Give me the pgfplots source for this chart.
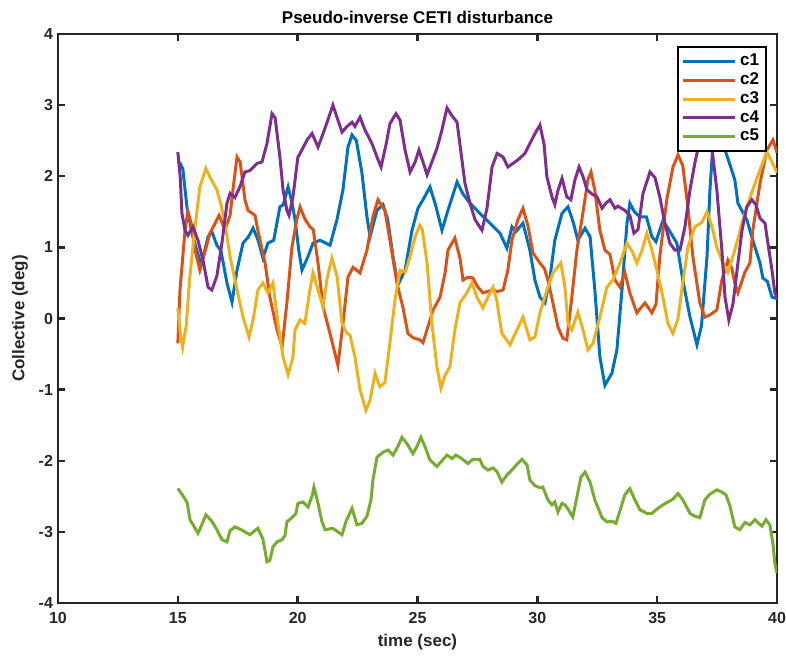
\documentclass[border=0pt]{standalone}
\usepackage{fontspec}
\setmainfont{Liberation Sans}
\usepackage{pgfplots}
\pgfplotsset{compat=1.18}
\definecolor{mc1}{rgb}{0,0.447,0.741}
\definecolor{mc2}{rgb}{0.85,0.325,0.098}
\definecolor{mc3}{rgb}{0.929,0.694,0.125}
\definecolor{mc4}{rgb}{0.494,0.184,0.556}
\definecolor{mc5}{rgb}{0.466,0.674,0.188}
\definecolor{axc}{rgb}{0.15,0.15,0.15}
\begin{document}
\begin{tikzpicture}
\begin{axis}[
  at={(0,0)}, anchor=south west,
  scale only axis, width=359.5pt, height=284.5pt,
  xmin=10, xmax=40, ymin=-4, ymax=4,
  xtick={10,15,20,25,30,35,40}, ytick={-4,-3,-2,-1,0,1,2,3,4},
  tick align=inside, major tick length=3.5pt,
  axis line style={line width=1.2pt, color=axc},
  every tick/.style={line width=1.2pt, color=axc},
  /pgf/number format/assume math mode=true,
  tick label style={font=\bfseries\fontsize{8}{9}\selectfont, color=axc},
  xticklabel style={yshift=-1pt},
  yticklabel style={xshift=1pt},
  title={Pseudo-inverse CETI disturbance},
  every axis title shift=0pt,
  title style={at={(axis description cs:0.5,1)}, anchor=base, yshift=5pt, font=\bfseries\fontsize{8.5}{10}\selectfont},
  xlabel={time (sec)},
  ylabel={Collective (deg)},
  every axis x label/.style={at={(axis description cs:0.5,0)}, anchor=base, yshift=-21.5pt, font=\bfseries\fontsize{8.5}{10}\selectfont, color=axc},
  every axis y label/.style={at={(axis description cs:0,0.5)}, anchor=center, rotate=90, yshift=19pt, font=\bfseries\fontsize{8.5}{10}\selectfont, color=axc},
  legend style={at={(1,1)}, anchor=north east, xshift=-5pt, yshift=-6pt, draw=black, line width=1pt, font=\bfseries\fontsize{8.5}{9}\selectfont, row sep=-2pt, inner sep=1.5pt},
  legend cell align=left,
  legend image code/.code={\draw[#1] (0pt,0pt) -- (26pt,0pt);},
  every axis plot/.append style={line width=1.5pt},
]
\addplot[mc1] coordinates {(15.0,2.2) (15.1,2.18) (15.21,2.1) (15.38,1.57) (15.59,1.2) (15.8,0.95) (15.95,0.78) (16.05,0.85) (16.26,1.15) (16.42,1.22) (16.63,1.03) (16.8,0.95) (17.05,0.5) (17.26,0.23) (17.47,0.68) (17.72,1.06) (17.95,1.15) (18.14,1.27) (18.35,1.1) (18.55,0.85) (18.76,1.06) (19.0,1.1) (19.26,1.57) (19.4,1.6) (19.6,1.85) (19.75,1.65) (19.89,1.39) (20.05,0.95) (20.18,0.68) (20.43,0.87) (20.64,1.06) (20.93,1.1) (21.35,1.03) (21.64,1.39) (21.89,1.81) (22.1,2.41) (22.27,2.58) (22.45,2.5) (22.68,2.05) (22.89,1.43) (23.02,1.15) (23.31,1.52) (23.56,1.6) (23.75,1.4) (23.98,0.87) (24.18,0.47) (24.48,0.68) (24.77,1.24) (25.02,1.55) (25.23,1.67) (25.52,1.85) (25.75,1.6) (26.02,1.24) (26.27,1.52) (26.65,1.92) (26.9,1.75) (27.19,1.62) (27.6,1.48) (28.02,1.34) (28.44,1.2) (28.73,0.99) (28.94,1.29) (29.1,1.22) (29.4,1.34) (29.69,0.96) (29.9,0.54) (30.11,0.3) (30.32,0.22) (30.53,0.58) (30.73,1.1) (31.03,1.48) (31.28,1.57) (31.5,1.35) (31.69,1.1) (31.99,1.27) (32.2,1.15) (32.4,0.4) (32.61,-0.54) (32.82,-0.94) (33.11,-0.77) (33.32,-0.44) (33.53,0.4) (33.74,1.34) (33.86,1.62) (34.05,1.5) (34.28,1.43) (34.55,1.43) (34.78,1.15) (34.95,1.08) (35.24,1.38) (35.5,1.24) (35.82,1.06) (36.07,0.54) (36.37,0.02) (36.66,-0.37) (36.85,-0.1) (37.08,0.87) (37.2,1.8) (37.33,2.45) (37.5,2.65) (37.75,2.45) (38.0,2.2) (38.24,1.95) (38.37,1.62) (38.74,1.39) (38.99,1.1) (39.29,0.78) (39.41,0.57) (39.6,0.52) (39.79,0.3) (40.0,0.28)};
\addlegendentry{c1}
\addplot[mc2] coordinates {(15.0,-0.35) (15.09,0.4) (15.3,1.24) (15.42,1.5) (15.55,1.35) (15.72,0.96) (15.92,0.68) (16.1,0.9) (16.34,1.2) (16.5,1.3) (16.72,1.45) (16.97,1.25) (17.18,1.45) (17.3,1.81) (17.47,2.27) (17.6,2.2) (17.8,1.67) (17.93,1.52) (18.22,1.45) (18.34,1.24) (18.64,0.78) (18.84,0.3) (19.14,-0.16) (19.35,-0.4) (19.55,0.22) (19.76,1.0) (19.97,1.4) (20.1,1.57) (20.3,1.4) (20.51,1.29) (20.65,1.25) (20.85,0.78) (21.06,0.16) (21.35,-0.21) (21.68,-0.66) (21.89,-0.07) (22.1,0.58) (22.31,0.72) (22.6,0.64) (22.89,0.96) (23.14,1.43) (23.35,1.67) (23.64,1.52) (23.85,1.1) (24.14,0.5) (24.39,0.16) (24.6,-0.21) (24.81,-0.27) (25.1,-0.3) (25.23,-0.34) (25.45,-0.1) (25.65,0.12) (25.94,0.3) (26.15,0.64) (26.27,0.96) (26.56,1.13) (26.77,0.85) (26.9,0.54) (27.1,0.58) (27.31,0.57) (27.5,0.45) (27.73,0.36) (28.11,0.4) (28.35,0.38) (28.57,0.4) (28.77,0.68) (28.94,1.1) (29.19,1.39) (29.4,1.55) (29.61,1.3) (29.82,0.92) (30.11,0.78) (30.3,0.7) (30.44,0.54) (30.65,0.22) (30.86,-0.12) (31.07,-0.28) (31.23,-0.3) (31.44,0.3) (31.65,0.96) (31.9,1.48) (32.11,1.95) (32.24,2.06) (32.4,1.8) (32.61,1.24) (32.82,0.96) (33.03,0.9) (33.24,0.54) (33.45,0.44) (33.65,0.65) (33.86,0.36) (34.15,0.08) (34.49,0.22) (34.78,0.08) (34.95,0.2) (35.11,0.87) (35.4,1.67) (35.66,2.13) (35.87,2.3) (36.07,2.15) (36.28,1.57) (36.49,0.87) (36.78,0.22) (36.99,0.02) (37.2,0.05) (37.49,0.12) (37.7,0.54) (37.95,0.82) (38.12,0.7) (38.24,0.5) (38.37,0.36) (38.66,0.65) (38.87,0.78) (38.99,1.24) (39.29,1.9) (39.58,2.37) (39.83,2.51) (40.0,2.33)};
\addlegendentry{c2}
\addplot[mc3] coordinates {(15.0,0.15) (15.1,-0.2) (15.2,-0.4) (15.35,-0.1) (15.5,0.58) (15.7,1.24) (15.92,1.85) (16.17,2.11) (16.4,1.95) (16.63,1.81) (16.8,1.6) (16.97,1.34) (17.18,0.87) (17.47,0.4) (17.72,0.02) (17.97,-0.26) (18.15,0.0) (18.34,0.4) (18.55,0.5) (18.76,0.36) (18.97,0.5) (19.18,-0.07) (19.39,-0.54) (19.6,-0.79) (19.8,-0.55) (19.89,-0.16) (20.1,-0.02) (20.3,-0.07) (20.51,0.4) (20.64,0.64) (20.85,0.4) (21.06,0.16) (21.22,0.55) (21.43,0.85) (21.64,0.6) (21.85,-0.07) (22.06,-0.21) (22.18,-0.23) (22.39,-0.54) (22.6,-1.0) (22.85,-1.29) (23.02,-1.15) (23.23,-0.77) (23.43,-0.96) (23.64,-0.9) (23.85,-0.34) (24.06,0.26) (24.27,0.68) (24.48,0.65) (24.69,0.87) (24.9,1.15) (25.1,1.31) (25.2,1.25) (25.4,0.78) (25.6,-0.07) (25.81,-0.68) (25.98,-0.98) (26.15,-0.8) (26.35,-0.68) (26.56,-0.16) (26.77,0.22) (27.06,0.36) (27.27,0.5) (27.48,0.3) (27.73,0.15) (27.94,0.3) (28.15,0.44) (28.31,0.25) (28.52,-0.21) (28.86,-0.37) (29.15,-0.16) (29.4,0.02) (29.69,-0.3) (29.9,-0.26) (30.11,0.08) (30.4,0.4) (30.65,0.64) (30.98,0.78) (31.15,0.45) (31.28,-0.07) (31.44,-0.16) (31.69,0.09) (31.9,-0.15) (32.11,-0.44) (32.32,-0.35) (32.61,0.02) (32.9,0.44) (33.15,0.54) (33.45,0.78) (33.74,1.06) (33.95,0.95) (34.15,0.78) (34.36,0.95) (34.57,1.2) (34.78,0.96) (34.99,0.68) (35.24,0.3) (35.45,-0.07) (35.66,-0.21) (35.87,0.0) (36.07,0.5) (36.28,1.0) (36.57,1.29) (36.86,1.35) (37.08,1.5) (37.28,1.3) (37.49,1.0) (37.74,0.78) (37.95,0.65) (38.24,0.96) (38.54,1.34) (38.74,1.57) (38.99,1.81) (39.29,2.09) (39.58,2.34) (39.79,2.2) (40.0,2.05)};
\addlegendentry{c3}
\addplot[mc4] coordinates {(15.0,2.34) (15.1,1.99) (15.17,1.48) (15.3,1.24) (15.42,1.17) (15.63,1.29) (15.84,1.1) (16.05,0.82) (16.26,0.44) (16.42,0.4) (16.63,0.6) (16.84,1.06) (17.05,1.62) (17.18,1.76) (17.38,1.7) (17.59,1.85) (17.8,2.06) (18.01,2.08) (18.3,2.18) (18.51,2.2) (18.72,2.46) (18.93,2.88) (19.06,2.82) (19.26,2.27) (19.39,1.81) (19.55,1.52) (19.64,1.45) (19.8,1.7) (20.01,2.27) (20.1,2.32) (20.39,2.51) (20.6,2.6) (20.85,2.41) (21.06,2.6) (21.26,2.79) (21.47,3.0) (21.68,2.79) (21.85,2.62) (22.06,2.7) (22.27,2.76) (22.39,2.7) (22.6,2.83) (22.81,2.65) (23.1,2.46) (23.31,2.27) (23.48,2.13) (23.69,2.45) (23.85,2.74) (24.1,2.88) (24.27,2.79) (24.48,2.37) (24.69,2.06) (24.9,2.2) (25.06,2.37) (25.23,2.2) (25.4,2.02) (25.6,2.2) (25.81,2.39) (26.02,2.65) (26.23,2.96) (26.44,2.85) (26.65,2.76) (26.77,2.45) (26.98,1.9) (27.19,1.62) (27.4,1.39) (27.69,1.24) (27.9,1.55) (28.11,2.13) (28.32,2.32) (28.57,2.27) (28.77,2.13) (28.98,2.18) (29.19,2.23) (29.48,2.32) (29.69,2.46) (29.9,2.6) (30.11,2.72) (30.28,2.45) (30.4,1.99) (30.61,1.71) (30.73,1.6) (30.86,1.8) (31.03,1.97) (31.23,1.71) (31.4,1.67) (31.57,1.95) (31.74,2.13) (31.9,2.0) (32.07,1.81) (32.28,1.75) (32.49,1.71) (32.7,1.55) (32.86,1.62) (33.03,1.67) (33.24,1.55) (33.36,1.58) (33.65,1.52) (33.86,1.45) (34.03,1.2) (34.2,1.25) (34.41,1.76) (34.7,2.06) (34.91,1.98) (35.11,1.71) (35.32,1.34) (35.53,1.06) (35.74,0.96) (35.95,0.96) (36.16,1.29) (36.37,1.81) (36.57,2.18) (36.78,2.51) (37.0,2.62) (37.28,2.41) (37.49,1.81) (37.7,0.96) (37.83,0.3) (37.99,-0.02) (38.16,0.2) (38.37,0.78) (38.54,1.24) (38.74,1.57) (38.95,1.67) (39.12,1.6) (39.29,1.41) (39.5,1.34) (39.62,1.06) (39.79,0.68) (39.91,0.36) (40.0,0.3)};
\addlegendentry{c4}
\addplot[mc5] coordinates {(15.0,-2.39) (15.17,-2.47) (15.38,-2.58) (15.51,-2.83) (15.67,-2.92) (15.84,-3.02) (16.0,-2.9) (16.17,-2.76) (16.42,-2.85) (16.63,-2.97) (16.84,-3.11) (17.05,-3.14) (17.18,-2.98) (17.38,-2.93) (17.59,-2.96) (17.8,-3.0) (18.01,-3.04) (18.22,-2.98) (18.34,-2.95) (18.55,-3.1) (18.72,-3.42) (18.84,-3.4) (18.97,-3.21) (19.14,-3.14) (19.35,-3.11) (19.47,-3.05) (19.55,-2.86) (19.76,-2.8) (19.93,-2.74) (20.01,-2.6) (20.22,-2.58) (20.43,-2.65) (20.6,-2.5) (20.68,-2.37) (20.85,-2.6) (21.01,-2.85) (21.14,-2.97) (21.47,-2.95) (21.85,-3.04) (22.02,-2.85) (22.27,-2.67) (22.47,-2.9) (22.68,-2.88) (22.89,-2.78) (23.06,-2.55) (23.14,-2.27) (23.31,-1.95) (23.56,-1.88) (23.77,-1.85) (23.98,-1.92) (24.18,-1.8) (24.35,-1.67) (24.56,-1.76) (24.81,-1.9) (24.98,-1.8) (25.14,-1.67) (25.31,-1.8) (25.52,-1.99) (25.81,-2.08) (26.02,-2.0) (26.23,-1.92) (26.44,-1.97) (26.6,-1.92) (26.85,-1.97) (27.1,-2.04) (27.31,-1.98) (27.6,-1.98) (27.73,-2.08) (27.94,-2.13) (28.15,-2.1) (28.31,-2.15) (28.52,-2.3) (28.73,-2.2) (28.94,-2.13) (29.15,-2.05) (29.36,-1.98) (29.57,-2.06) (29.69,-2.27) (29.9,-2.35) (30.11,-2.38) (30.23,-2.37) (30.44,-2.55) (30.61,-2.62) (30.73,-2.58) (30.86,-2.72) (31.03,-2.6) (31.15,-2.62) (31.28,-2.68) (31.48,-2.79) (31.65,-2.51) (31.82,-2.23) (31.99,-2.16) (32.2,-2.3) (32.4,-2.55) (32.7,-2.8) (32.9,-2.86) (33.11,-2.85) (33.28,-2.88) (33.45,-2.7) (33.65,-2.48) (33.86,-2.39) (34.07,-2.55) (34.28,-2.69) (34.57,-2.74) (34.78,-2.74) (34.99,-2.68) (35.24,-2.62) (35.45,-2.58) (35.66,-2.54) (35.87,-2.46) (36.07,-2.55) (36.37,-2.74) (36.57,-2.78) (36.78,-2.8) (36.99,-2.55) (37.2,-2.47) (37.49,-2.41) (37.7,-2.44) (37.87,-2.48) (38.04,-2.64) (38.24,-2.93) (38.45,-2.97) (38.66,-2.87) (38.87,-2.9) (39.08,-2.83) (39.2,-2.87) (39.37,-2.92) (39.54,-2.83) (39.7,-2.9) (39.83,-3.16) (39.91,-3.44) (40.0,-3.58)};
\addlegendentry{c5}
\end{axis}
\pgfresetboundingbox
\useasboundingbox (-29pt,-27.5pt) rectangle (364pt,301.5pt);
\end{tikzpicture}
\end{document}
